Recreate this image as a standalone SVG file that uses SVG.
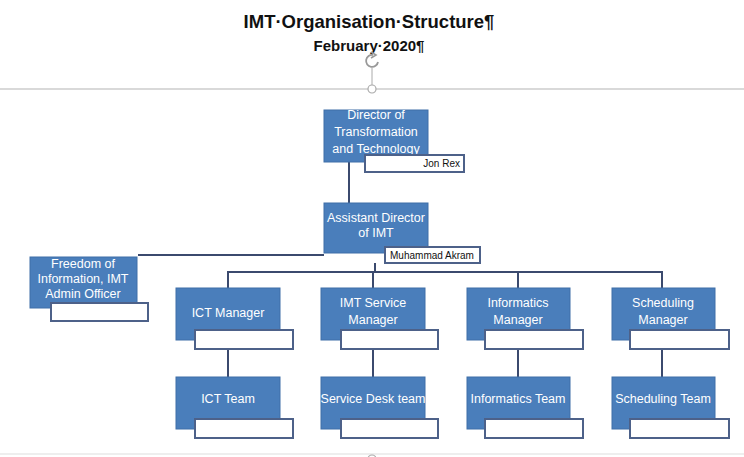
<svg xmlns="http://www.w3.org/2000/svg" width="744" height="457" viewBox="0 0 744 457">
<style>
.box{fill:#4a7ebb;stroke:#3f6fa8;stroke-width:1}
.nb{fill:#fff;stroke:#4d6189;stroke-width:2}
.t{font-family:"Liberation Sans",Arial,sans-serif;font-size:12.5px;fill:#fff;text-anchor:middle}
.n{font-family:"Liberation Sans",Arial,sans-serif;font-size:10px;fill:#111}
.c{fill:none;stroke:#3b4a6e;stroke-width:2}
.h{font-family:"Liberation Sans",Arial,sans-serif;font-weight:bold;fill:#111;text-anchor:middle}
</style>
<rect width="744" height="457" fill="#fff"/>
<g id="title">
<text class="h" x="369" y="28" font-size="18.5">IMT·Organisation·Structure¶</text>
<text class="h" x="369" y="51" font-size="15">February·2020¶</text>
</g>
<g id="page" fill="none" stroke="#aaa">
<line x1="0" y1="89" x2="744" y2="89" stroke="#ccc" stroke-width="1.5"/>
<line x1="372" y1="68" x2="372" y2="85" stroke-width="1"/>
<circle cx="372" cy="89" r="4" fill="#fff" stroke-width="1.2"/>
<path d="M378 62 A6 6 0 1 1 373 55" stroke="#999" stroke-width="1.8"/>
<path d="M371 52 L376 55 L371 58" stroke="#999" stroke-width="1.6"/>
<line x1="0" y1="454" x2="744" y2="454" stroke="#ddd" stroke-width="1"/>
<circle cx="372" cy="459" r="4" fill="#fff" stroke-width="1.2"/>
</g>
<g id="connectors">
<line class="c" x1="349" y1="162" x2="349" y2="204"/>
<line class="c" x1="138" y1="255" x2="324" y2="255"/>
<line class="c" x1="375" y1="263" x2="375" y2="272"/>
<polyline class="c" points="228,288 228,272 662,272 662,288"/>
<line class="c" x1="373" y1="272" x2="373" y2="288"/>
<line class="c" x1="518" y1="272" x2="518" y2="288"/>
<line class="c" x1="228" y1="349" x2="228" y2="377"/>
<line class="c" x1="373" y1="349" x2="373" y2="377"/>
<line class="c" x1="518" y1="349" x2="518" y2="377"/>
<line class="c" x1="662" y1="349" x2="662" y2="377"/>
</g>
<g id="director">
<rect class="box" x="324" y="110" width="104" height="52"/>
<text class="t" x="376" y="119">Director of</text>
<text class="t" x="376" y="136">Transformation</text>
<text class="t" x="376" y="153">and Technology</text>
<rect class="nb" x="365" y="155" width="99" height="17"/>
<text class="n" x="460" y="167" text-anchor="end">Jon Rex</text>
</g>
<g id="assistant">
<rect class="box" x="324" y="203" width="104" height="50"/>
<text class="t" x="376" y="222">Assistant Director</text>
<text class="t" x="376" y="237">of IMT</text>
<rect class="nb" x="385" y="247" width="95" height="16"/>
<text class="n" x="432" y="259" text-anchor="middle">Muhammad Akram</text>
</g>
<g id="foi">
<rect class="box" x="30" y="257" width="107" height="51"/>
<text class="t" x="83" y="268">Freedom of</text>
<text class="t" x="83" y="283">Information, IMT</text>
<text class="t" x="83" y="298">Admin Officer</text>
<rect class="nb" x="51" y="303" width="97" height="18"/>
</g>
<g id="ict-manager">
<rect class="box" x="176" y="288" width="104" height="52"/>
<text class="t" x="228" y="317">ICT Manager</text>
<rect class="nb" x="195" y="330" width="98" height="19"/>
</g>
<g id="imt-service-manager">
<rect class="box" x="321" y="288" width="104" height="52"/>
<text class="t" x="373" y="307">IMT Service</text>
<text class="t" x="373" y="324">Manager</text>
<rect class="nb" x="341" y="330" width="97" height="19"/>
</g>
<g id="informatics-manager">
<rect class="box" x="467" y="288" width="103" height="52"/>
<text class="t" x="518" y="307">Informatics</text>
<text class="t" x="518" y="324">Manager</text>
<rect class="nb" x="485" y="330" width="98" height="19"/>
</g>
<g id="scheduling-manager">
<rect class="box" x="612" y="288" width="103" height="52"/>
<text class="t" x="663" y="307">Scheduling</text>
<text class="t" x="663" y="324">Manager</text>
<rect class="nb" x="630" y="330" width="99" height="19"/>
</g>
<g id="ict-team">
<rect class="box" x="176" y="377" width="104" height="52"/>
<text class="t" x="228" y="403">ICT Team</text>
<rect class="nb" x="195" y="419" width="98" height="19"/>
</g>
<g id="service-desk-team">
<rect class="box" x="321" y="377" width="104" height="52"/>
<text class="t" x="373" y="403">Service Desk team</text>
<rect class="nb" x="341" y="419" width="97" height="19"/>
</g>
<g id="informatics-team">
<rect class="box" x="467" y="377" width="103" height="52"/>
<text class="t" x="518" y="403">Informatics Team</text>
<rect class="nb" x="485" y="419" width="98" height="19"/>
</g>
<g id="scheduling-team">
<rect class="box" x="612" y="377" width="103" height="52"/>
<text class="t" x="663" y="403">Scheduling Team</text>
<rect class="nb" x="630" y="419" width="99" height="19"/>
</g>
</svg>
